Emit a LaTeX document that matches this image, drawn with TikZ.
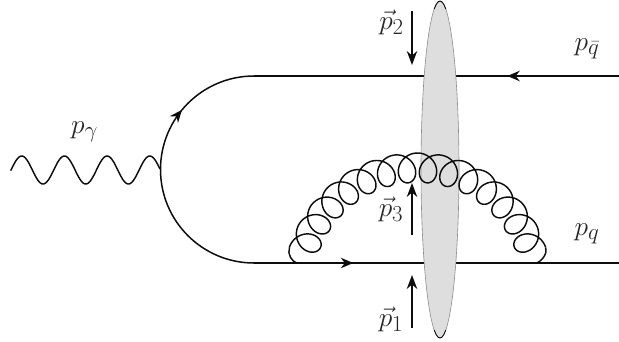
\documentclass[tikz,border=0pt]{standalone}
\usetikzlibrary{arrows.meta,decorations.markings}
\tikzset{
  fermion/.style={line width=1.5pt,black!95},
  boson/.style={line width=1.45pt,black!95},
  tiparrow/.style={line width=1.5pt,black!95,-{Stealth[length=14pt,width=10.5pt]}},
  markat/.style={postaction={decorate},decoration={markings,mark=at position #1 with {\arrow{Stealth[length=12.5pt,width=10.5pt]}}}},
  lab/.style={inner sep=0pt,font=\fontsize{24.88}{30}\selectfont,scale=1.1,black!85},
  blob/.style={draw=black!45,line width=0.6pt,fill=black!13},
}
\begin{document}
\begin{tikzpicture}[x=1pt,y=-1pt]
\useasboundingbox (0,0) rectangle (619,341);
\coordinate (topL) at (254,76);
\coordinate (topR) at (619,76);
\coordinate (botL) at (254,263);
\coordinate (botR) at (619,263);
\coordinate (glL) at (297,263);
\coordinate (glR) at (536,263);
% quark lines
\draw[fermion,markat=0.306] (topR) -- (topL);
\draw[fermion,markat=0.272] (botL) -- (botR);
\draw[fermion,markat=0.72] (botL) arc[start angle=270,end angle=90,radius=93.5pt];
% photon
\draw[boson] plot[domain=10.7:160,samples=200,variable=\x] ({\x},{170-14*cos(8.4309*(\x-21.7))});
% shock wave
\draw[blob] (440,169.5) ellipse[x radius=19pt,y radius=168.5pt];
\begin{scope}
  \clip (420,0) rectangle (460,9) (420,330) rectangle (460,341);
  \draw[black,line width=0.8pt] (440,169.5) ellipse[x radius=19pt,y radius=168.5pt];
\end{scope}
% gluon
\draw[boson] (glL) .. controls (292,262) and (287,254) .. (289.5,247.5);
\draw[boson] plot[domain=0:87.9646,samples=900,variable=\t]
  ({417.5+(119.5+14.7*cos(\t r))*sin(-72.8+\t*1.6552)+13.5*sin(\t r)*cos(-72.8+\t*1.6552)},
   {287.2-(119.5+14.7*cos(\t r))*cos(-72.8+\t*1.6552)+13.5*sin(\t r)*sin(-72.8+\t*1.6552)});
\draw[boson] (glR) .. controls (541,262) and (548,254) .. (545.5,247.5);
% momentum arrows
\coordinate (a2s) at (412,11); \coordinate (a2e) at (412,65);
\coordinate (a3s) at (412,235); \coordinate (a3e) at (412,183);
\coordinate (a1s) at (412,328); \coordinate (a1e) at (412,275);
\draw[tiparrow] (a2s) -- (a2e);
\draw[tiparrow] (a3s) -- (a3e);
\draw[tiparrow] (a1s) -- (a1e);
% labels
\node[lab] (pg) at (84.5,132) {$p_\gamma$};
\node[lab] (pq) at (587,234) {$p_q$};
\node[lab] (pqb) at (587,49) {$p_{\bar q}$};
\node[lab] (p2) at (391.5,22) {$\vec p_2$};
\node[lab] (p3) at (391,209) {$\vec p_3$};
\node[lab] (p1) at (391,319) {$\vec p_1$};
\end{tikzpicture}
\end{document}
